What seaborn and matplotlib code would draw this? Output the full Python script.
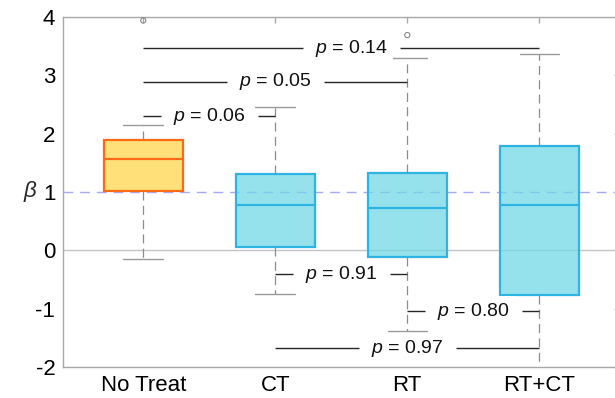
import numpy as np
import pandas as pd
import matplotlib
matplotlib.use("Agg")
import matplotlib.pyplot as plt
import matplotlib.colors as mcolors
import seaborn as sns

# ---------------- data ----------------
categories = ["No Treat", "CT", "RT", "RT+CT"]
whisker_low = [-0.15, -0.74, -1.38, -2.60]
q1 = [1.02, 0.05, -0.12, -0.77]
median = [1.56, 0.77, 0.72, 0.77]
q3 = [1.89, 1.30, 1.33, 1.78]
whisker_high = [2.14, 2.45, 3.29, 3.36]

outlier_group = ["No Treat", "RT"]
outlier_value = [3.94, 3.69]

# pairwise comparisons: group a, group b, bracket level, p value, label position
comp_a = ["No Treat", "No Treat", "No Treat", "CT", "RT", "CT"]
comp_b = ["CT", "RT", "RT+CT", "RT", "RT+CT", "RT+CT"]
comp_y = [2.30, 2.89, 3.46, -0.41, -1.04, -1.675]
comp_p = ["0.06", "0.05", "0.14", "0.91", "0.80", "0.97"]
label_x = [0.5, 1.0, 1.58, 1.5, 2.5, 2.0]

y_ticks = [-2, -1, 0, 1, 2, 3, 4]

# ---------------- style ----------------
sns.set_theme(style="white")
plt.rcParams["font.family"] = ["Liberation Sans", "DejaVu Sans"]
plt.rcParams["axes.unicode_minus"] = False
plt.rcParams["mathtext.fontset"] = "custom"
plt.rcParams["mathtext.it"] = "Liberation Sans:italic"
plt.rcParams["mathtext.rm"] = "Liberation Sans"
plt.rcParams["lines.scale_dashes"] = False

yellow_fill, yellow_edge = "#FFE07A", "#FF6A14"
cyan_fill, cyan_edge = "#96E3EC", "#2EB4E2"
grey_line = "#8C8C8C"

# five-number summaries -> long table (5 points each: quartiles are exact)
rows = []
for i, g in enumerate(categories):
    for v in (whisker_low[i], q1[i], median[i], q3[i], whisker_high[i]):
        rows.append({"group": g, "beta": v})
df = pd.DataFrame(rows)
out_df = pd.DataFrame({"group": outlier_group, "beta": outlier_value})

fig = plt.figure(figsize=(6.15, 3.98), dpi=100)
ax = fig.add_axes([63 / 615, 31 / 398, (619.6 - 63) / 615, 350 / 398])

whisker_kw = dict(color=grey_line, linewidth=0.9, linestyle=(0, (6.5, 3.8)))
cap_kw = dict(color="#9A9A9A", linewidth=1.0)

for subset, fill, edge in (
    (["No Treat"], yellow_fill, yellow_edge),
    (["CT", "RT", "RT+CT"], cyan_fill, cyan_edge),
):
    sns.boxplot(
        data=df[df["group"].isin(subset)], x="group", y="beta",
        order=categories, width=0.6, whis=(0, 100), color=fill,
        saturation=1, linecolor=edge, linewidth=1.6, fliersize=0,
        whiskerprops=whisker_kw, capprops=cap_kw,
        medianprops=dict(color=edge, linewidth=1.6), ax=ax,
    )

# slightly translucent box faces (reference lines show faintly through)
for p in ax.patches:
    target = np.array(mcolors.to_rgb(p.get_facecolor()))
    a = 0.72
    face = np.clip((target - (1 - a)) / a, 0, 1)
    p.set_facecolor((*face, a))
    p.set_zorder(2)
for ln in ax.lines:
    ln.set_zorder(3)

sns.scatterplot(
    data=out_df, x="group", y="beta", ax=ax, marker="o", s=14,
    facecolor="none", edgecolor="#8A8A8A", linewidth=0.8, zorder=4,
    legend=False,
)

ax.axhline(0, color="#C4C4C4", linewidth=1.0, zorder=1)
ax.axhline(1, color="#A8A8FF", linewidth=1.0, linestyle=(0, (7, 5)), zorder=1.5)

pos = {g: i for i, g in enumerate(categories)}
gap = 0.367
for a_, b_, yv, pv, lx in zip(comp_a, comp_b, comp_y, comp_p, label_x):
    xa, xb = pos[a_], pos[b_]
    ax.plot([xa, lx - gap], [yv, yv], color="#262626", linewidth=1.0,
            zorder=6, solid_capstyle="butt")
    ax.plot([lx + gap, xb], [yv, yv], color="#262626", linewidth=1.0,
            zorder=6, solid_capstyle="butt")
    ax.text(lx, yv, f"$p$ = {pv}", fontsize=14, ha="center", va="center",
            zorder=7, color="#111111",
            bbox=dict(boxstyle="square,pad=0.25", facecolor="white",
                      edgecolor="none"))

ax.set_xlim(-0.608, 3.608)
ax.set_ylim(-2, 4)
ax.set_yticks(y_ticks)
ax.set_yticklabels([str(t) for t in y_ticks])
ax.set_xlabel("")
ax.set_ylabel("")
fig.text(30 / 615, 1 - 192 / 398, "β", fontsize=16, style="italic",
         ha="center", va="center")

for s in ax.spines.values():
    s.set_color("#A8A8A8")
    s.set_linewidth(1.0)
    s.set_visible(True)
ax.tick_params(direction="in", length=4.5, width=1.0, color="#A8A8A8",
               top=True, right=True, labelsize=16, labelcolor="black")
ax.tick_params(axis="y", pad=5.5)
ax.tick_params(axis="x", pad=6)

fig.savefig("out.png", dpi=100)
